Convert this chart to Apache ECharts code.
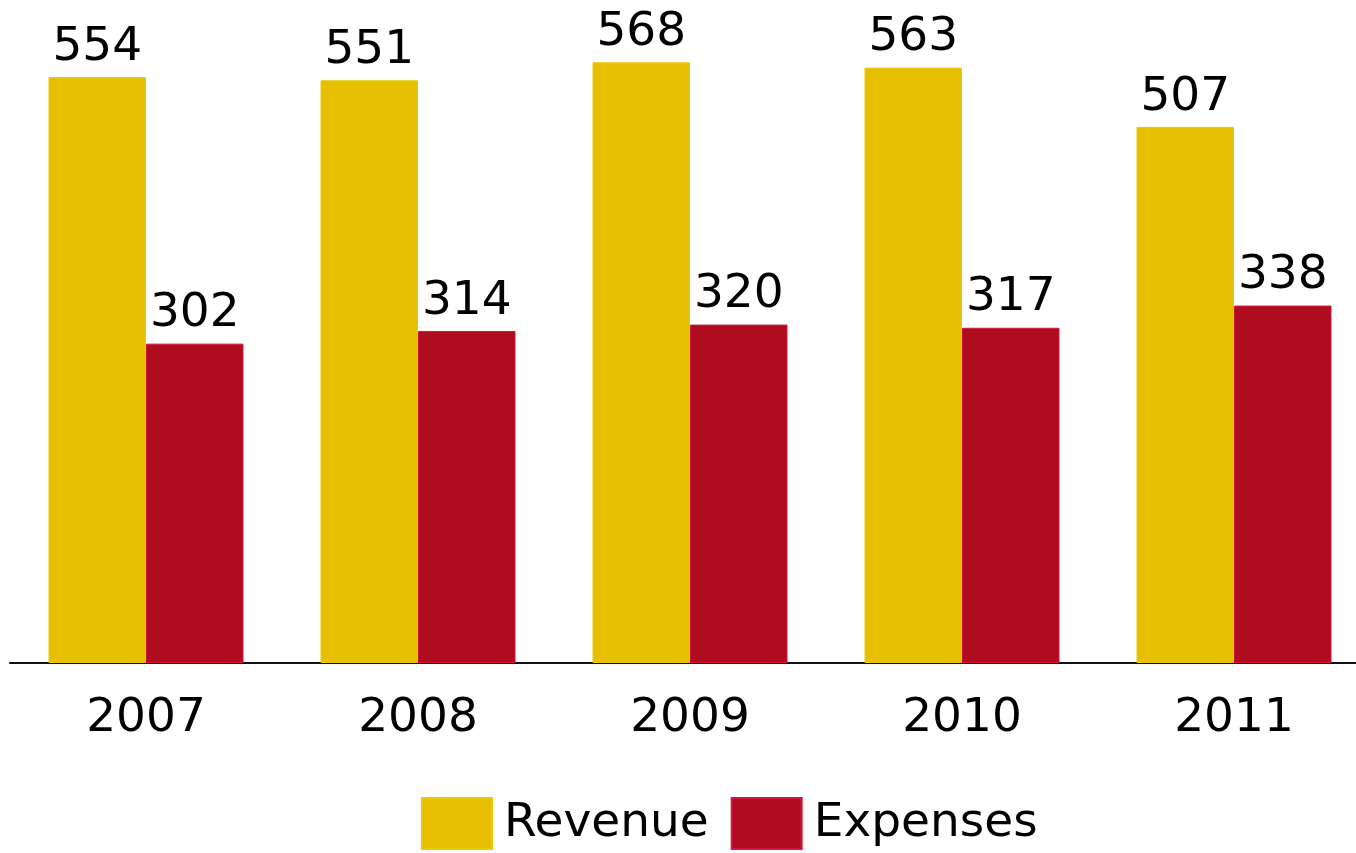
<!DOCTYPE html>
<html>
<head>
<meta charset="utf-8">
<script src="https://cdn.jsdelivr.net/npm/echarts@6/dist/echarts.min.js"></script>
<style>
  html, body { margin: 0; padding: 0; background: #ffffff; overflow: hidden; }
  /* the plot runs slightly past the right edge of the page */
  #chart { width: 1371px; height: 853px; }
</style>
</head>
<body>
<div id="chart"></div>
<script>
// Yearly figures
const years = ['2007', '2008', '2009', '2010', '2011'];
const revenue = [554, 551, 568, 563, 507];
const expenses = [302, 314, 320, 317, 338];

const FONT = 'DejaVu Sans';
const FONT_SIZE = 47;
const chart = echarts.init(document.getElementById('chart'));

const labelStyle = {
  show: true,
  position: 'top',
  distance: 6,
  color: '#000',
  fontFamily: FONT,
  fontSize: FONT_SIZE
};

chart.setOption({
  animation: false,
  textStyle: { fontFamily: FONT },
  grid: { left: 10, width: 1360, top: 28.5, height: 634.5, containLabel: false },
  legend: {
    left: 416,
    top: 792,
    itemWidth: 70,
    itemHeight: 51,
    itemGap: 22,
    icon: 'rect',
    textStyle: { fontFamily: FONT, fontSize: FONT_SIZE, color: '#000', padding: [0, 0, 0, 7] },
    data: ['Revenue', 'Expenses']
  },
  xAxis: {
    type: 'category',
    data: years,
    axisLine: { lineStyle: { color: '#111', width: 2 } },
    axisTick: { show: false },
    axisLabel: { color: '#000', fontFamily: FONT, fontSize: FONT_SIZE, margin: 32 }
  },
  yAxis: {
    type: 'value',
    min: 0,
    max: 600,
    show: false,
    splitLine: { show: false }
  },
  series: [
    {
      name: 'Revenue',
      type: 'bar',
      data: revenue,
      barWidth: 97.5,
      barGap: '0%',
      itemStyle: { color: '#E6BF00', borderColor: '#EEC800', borderWidth: 1 },
      label: labelStyle
    },
    {
      name: 'Expenses',
      type: 'bar',
      data: expenses,
      barWidth: 97.5,
      itemStyle: { color: '#B00C20', borderColor: '#D2173C', borderWidth: 1 },
      label: labelStyle
    }
  ]
});
</script>
</body>
</html>
